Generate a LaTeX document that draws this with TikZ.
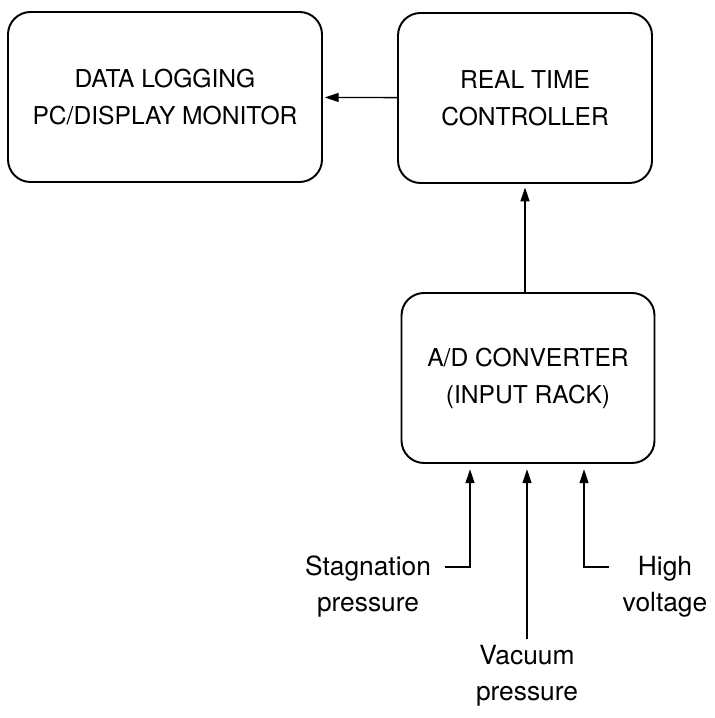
\documentclass[tikz,border=0pt]{standalone}
\usepackage{fontspec}
\setmainfont{TeX Gyre Heros}
\usetikzlibrary{arrows.meta}

\tikzset{
  block/.style={draw, rectangle, rounded corners=0.45cm, line width=1.1pt,
    minimum height=3.4cm, align=center, font=\fontsize{14}{21}\selectfont},
  signal/.style={align=center, font=\fontsize{15}{20.5}\selectfont},
}

\begin{document}
\begin{tikzpicture}[>={Triangle[length=2.8mm,width=1.8mm]}, line width=0.75pt]
	\useasboundingbox (0,0) rectangle (14.28,14.36);
	
	% Bloecke
	\node (logger) [block, minimum width=6.28cm] at (3.3,12.42) {DATA LOGGING\\PC/DISPLAY MONITOR};
	\node (rtc) [block, minimum width=5.08cm] at (10.5,12.4) {REAL TIME\\CONTROLLER};
	\node (adc) [block, minimum width=5.06cm] at (10.56,6.8) {A/D CONVERTER\\(INPUT RACK)};
	
	% Verbindungen
	\draw[->, shorten >=1pt] (rtc) -- (logger);
	\draw[->, shorten >=2pt] (adc.north -| 10.5,0) -- (rtc.south -| 10.5,0);
	
	% Eingangs-Signale
	\node (stag) [signal] at (7.36,2.62) {Stagnation\\pressure};
	\node (vac) [signal] at (10.54,0.84) {Vacuum\\pressure};
	\node (hv) [signal] at (13.3,2.62) {High\\voltage};
	
	\coordinate (stagin) at (9.4,3.02);
	\coordinate (hvin) at (11.68,3.02);
	\draw[->, shorten >=3pt] ([xshift=4pt]stag.east |- stagin) -- (stagin) -- (stagin |- adc.south);
	\draw[->, shorten >=3pt] (vac.north) -- (vac.north |- adc.south);
	\draw[->, shorten >=3pt] ([xshift=-4pt]hv.west |- hvin) -- (hvin) -- (hvin |- adc.south);
	
\end{tikzpicture}
\end{document}
